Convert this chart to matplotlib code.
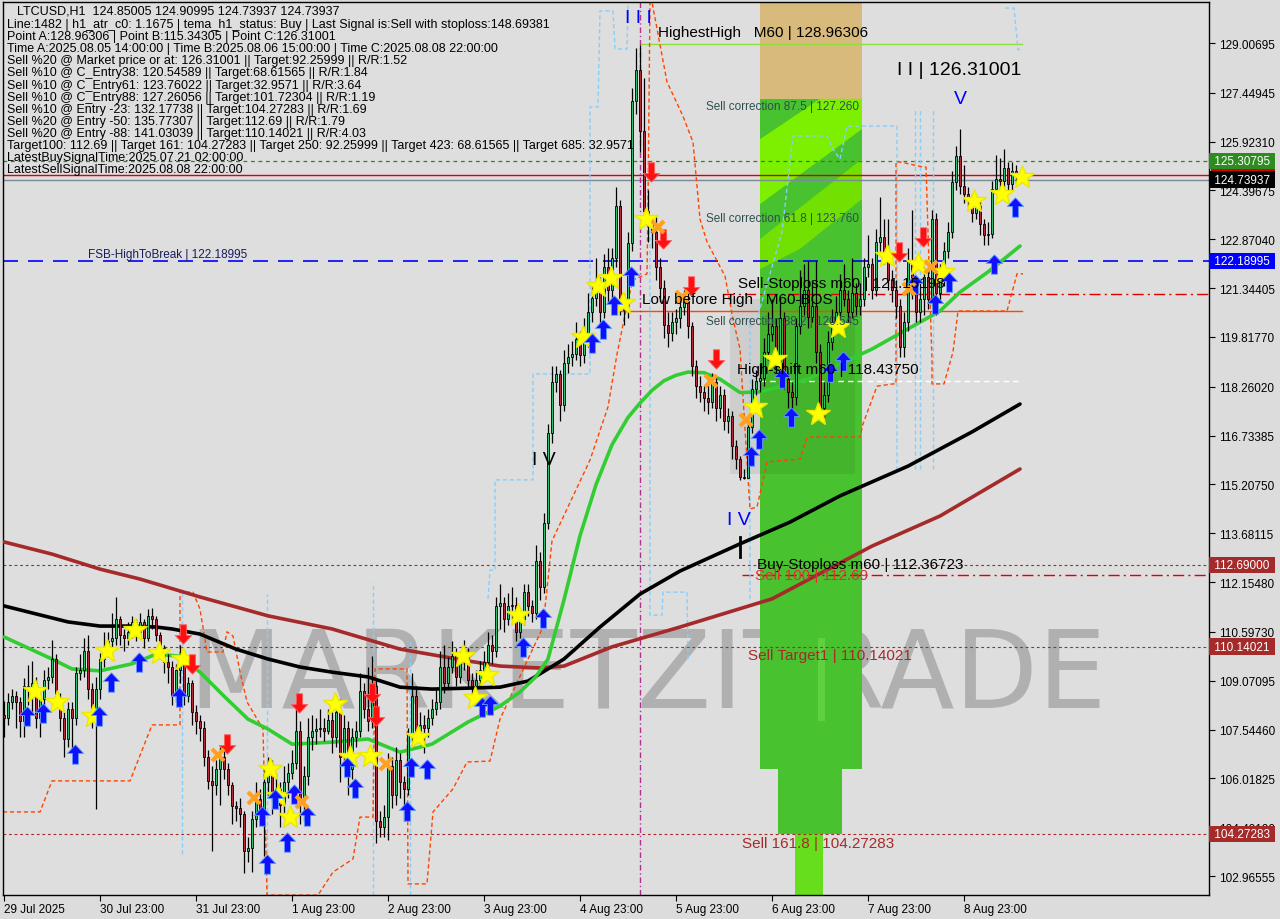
import matplotlib
matplotlib.use("Agg")
import matplotlib.pyplot as plt
from matplotlib.patches import Rectangle, Polygon
import matplotlib.transforms as mtransforms

plt.rcParams['font.family'] = ['Liberation Sans', 'DejaVu Sans']

# ---- candles (H1, index 0 = 29 Jul 23:00) ----
first_open = 108.00
closes = [
    107.90, 108.40, 108.60, 108.40, 107.80, 108.90, 108.85, 109.00, 107.90, 108.50, 109.10, 109.20,
    109.75, 108.50, 107.90, 107.25, 108.20, 107.90, 109.30, 109.40, 110.00, 108.80, 107.90, 108.80,
    109.75, 110.10, 110.30, 110.40, 111.00, 110.50, 110.40, 110.60, 110.90, 110.60, 110.90, 110.40,
    111.10, 111.00, 110.50, 110.10, 109.65, 109.50, 108.60, 109.40, 109.80, 108.60, 109.00, 108.10,
    107.80, 107.60, 106.70, 105.95, 105.80, 106.30, 106.70, 106.30, 105.80, 105.15, 105.10, 104.90,
    103.75, 103.85, 104.75, 105.37, 105.00, 105.90, 106.30, 105.60, 105.70, 105.20, 105.90, 106.20,
    106.50, 107.50, 105.40, 106.10, 107.30, 107.50, 107.55, 107.60, 107.50, 107.85, 107.30, 108.10,
    106.70, 107.60, 106.30, 107.30, 107.50, 108.75, 108.20, 107.80, 108.90, 104.70, 104.50, 104.80,
    106.40, 105.50, 106.60, 105.90, 105.70, 107.40, 108.60, 107.50, 107.70, 107.60, 107.90, 108.20,
    108.40, 109.50, 109.00, 109.50, 109.85, 109.20, 109.70, 109.90, 109.10, 108.90, 109.10, 109.40,
    109.65, 110.20, 110.00, 111.40, 111.50, 111.00, 111.40, 111.45, 110.60, 111.00, 111.85, 111.40,
    111.20, 112.80, 112.00, 114.00, 116.80, 118.40, 118.65, 117.70, 119.00, 119.20, 119.30, 119.75,
    119.25, 119.80, 120.60, 121.05, 121.40, 120.60, 122.00, 121.30, 122.30, 123.90, 120.90, 120.65,
    122.75, 127.20, 128.15, 126.25, 123.75, 123.40, 123.10, 122.00, 121.35, 120.20, 119.95, 120.30,
    120.40, 120.75, 120.95, 120.15, 118.90, 118.30, 118.10, 117.90, 117.80, 118.40, 117.60, 118.00,
    117.20, 117.35, 116.40, 116.00, 115.45, 115.40, 117.00, 118.20, 118.45, 118.55, 119.35, 119.90,
    120.15, 119.00, 120.40, 118.50, 118.10, 117.95, 120.15, 120.80, 121.30, 120.45, 120.80, 119.35,
    117.60, 118.00, 119.65, 120.30, 120.60, 121.30, 121.00, 120.60, 121.20, 120.80, 121.00, 122.00,
    122.10, 121.30, 122.80, 122.95, 122.45, 121.60, 121.30, 120.80, 119.50, 120.30, 122.15, 121.30,
    120.60, 121.00, 121.70, 121.00, 123.50, 121.20, 121.70, 122.50, 123.10, 124.66, 125.47, 124.55,
    124.30, 124.15, 123.70, 123.90, 123.35, 123.00, 123.05, 124.45, 124.75, 124.70, 125.10, 124.60,
    125.00, 124.85, 124.74,
]
highs = [
    108.45, 108.70, 108.80, 108.75, 108.55, 109.15, 109.55, 109.70, 109.20, 108.80, 109.40, 109.50,
    110.35, 109.90, 108.70, 108.10, 108.40, 108.40, 109.50, 109.90, 110.40, 110.50, 109.00, 109.20,
    109.95, 110.60, 110.60, 111.20, 111.70, 111.10, 110.70, 110.90, 111.10, 111.00, 111.20, 111.00,
    111.30, 111.35, 111.10, 110.60, 110.20, 109.90, 109.70, 109.60, 110.20, 110.00, 109.20, 109.10,
    108.30, 108.00, 107.80, 106.90, 106.40, 106.60, 107.00, 106.90, 106.50, 105.90, 105.30, 105.40,
    105.00, 104.20, 105.00, 105.90, 105.70, 106.40, 106.70, 106.60, 106.20, 105.90, 106.40, 106.50,
    106.90, 108.40, 107.80, 106.40, 107.90, 108.00, 107.90, 108.20, 107.90, 108.20, 108.10, 108.60,
    108.50, 108.00, 107.80, 107.60, 107.80, 109.30, 109.00, 109.50, 109.85, 109.10, 105.00, 105.20,
    106.80, 106.70, 107.00, 106.80, 106.10, 107.60, 109.30, 108.90, 108.10, 108.00, 108.20, 108.50,
    108.80, 110.00, 110.20, 109.80, 110.30, 110.10, 110.00, 110.35, 110.10, 109.30, 109.40, 109.70,
    110.00, 110.60, 110.50, 111.70, 112.10, 111.70, 111.80, 112.00, 111.70, 111.30, 112.10, 112.10,
    111.60, 113.30, 113.10, 114.30, 117.10, 118.90, 118.90, 118.80, 119.40, 119.60, 119.70, 120.30,
    120.00, 120.40, 121.20, 121.50, 122.30, 121.70, 122.40, 122.60, 122.60, 124.50, 124.10, 121.20,
    123.10, 127.60, 128.85, 128.96, 127.90, 124.40, 123.60, 123.60, 122.30, 121.60, 120.60, 120.60,
    120.70, 121.20, 121.30, 121.20, 120.30, 119.10, 118.60, 118.30, 118.60, 118.70, 118.60, 118.30,
    118.20, 117.60, 117.50, 116.60, 116.10, 115.70, 117.30, 118.50, 118.80, 119.00, 119.80, 120.60,
    121.00, 120.40, 121.10, 120.60, 118.70, 118.40, 120.40, 121.90, 122.10, 122.20, 121.60, 122.20,
    119.60, 118.40, 120.00, 120.70, 121.10, 121.80, 122.10, 121.30, 122.30, 121.50, 121.50, 122.30,
    123.00, 122.30, 123.20, 124.20, 123.50, 123.50, 121.90, 121.60, 121.00, 120.60, 122.60, 123.80,
    121.60, 121.50, 122.00, 122.00, 123.80, 123.70, 122.10, 122.80, 123.40, 125.00, 125.80, 126.31,
    125.20, 124.50, 124.30, 124.20, 124.10, 123.50, 123.40, 124.70, 125.50, 125.40, 125.70, 125.30,
    125.30, 125.20, 124.91,
]
lows = [
    107.30, 107.70, 108.20, 107.60, 107.30, 107.30, 108.30, 108.00, 107.60, 107.30, 108.00, 108.80,
    109.00, 108.30, 107.50, 106.70, 107.00, 106.90, 107.70, 109.10, 109.20, 108.50, 107.60, 105.05,
    108.50, 109.50, 109.90, 110.00, 110.20, 110.20, 110.00, 110.20, 110.40, 110.30, 110.40, 110.10,
    110.30, 110.70, 110.30, 109.80, 109.30, 109.00, 108.30, 108.40, 109.00, 108.30, 108.40, 107.70,
    107.40, 107.20, 106.40, 105.70, 103.75, 105.50, 105.20, 106.00, 105.50, 104.60, 104.70, 104.50,
    103.05, 103.40, 103.10, 104.50, 104.60, 103.60, 105.50, 104.90, 105.30, 104.50, 104.80, 105.40,
    106.00, 106.30, 104.60, 104.70, 105.80, 106.90, 107.10, 107.30, 107.20, 107.40, 106.80, 107.00,
    105.90, 106.40, 105.50, 106.00, 107.00, 107.30, 107.90, 107.50, 107.60, 104.00, 104.20, 104.20,
    104.10, 105.10, 105.20, 105.40, 104.70, 105.50, 107.20, 107.20, 107.20, 106.80, 107.30, 107.70,
    108.00, 108.20, 108.70, 108.80, 109.30, 108.90, 109.00, 109.40, 108.80, 108.30, 108.70, 108.90,
    109.20, 109.40, 109.60, 109.80, 110.70, 110.60, 110.80, 111.00, 110.30, 110.40, 110.80, 111.10,
    110.90, 111.00, 111.60, 111.80, 113.80, 116.50, 118.10, 117.20, 117.50, 118.70, 118.90, 119.10,
    118.90, 119.00, 119.50, 120.30, 120.80, 120.10, 120.40, 120.90, 121.00, 122.00, 120.50, 120.20,
    120.40, 122.50, 126.80, 125.60, 123.40, 122.80, 122.60, 121.60, 120.90, 119.80, 119.50, 119.70,
    119.90, 120.10, 120.50, 119.80, 118.60, 117.90, 117.80, 117.50, 117.40, 117.60, 117.20, 117.30,
    116.90, 116.80, 116.00, 115.70, 115.343, 115.38, 115.45, 116.80, 118.00, 118.10, 118.30, 119.10,
    119.70, 118.70, 118.80, 118.20, 117.60, 117.50, 117.70, 119.90, 120.50, 120.10, 120.30, 119.00,
    117.25, 117.30, 117.80, 119.40, 120.00, 120.40, 120.80, 120.20, 120.40, 120.50, 120.50, 120.80,
    121.70, 121.00, 121.10, 122.50, 122.10, 121.30, 120.90, 120.40, 119.20, 119.20, 120.00, 121.00,
    120.30, 120.30, 120.50, 120.70, 120.80, 120.50, 120.90, 121.40, 122.30, 122.90, 124.40, 124.30,
    124.00, 123.90, 123.40, 123.50, 123.00, 122.70, 122.70, 122.90, 124.30, 124.40, 124.50, 124.30,
    124.40, 124.60, 124.739,
]
opens = [first_open] + closes[:-1]
idx = list(range(len(closes)))

# ---- moving averages (read at knots: bar index, price) ----
ma_green_x = [0, 12, 17, 24, 32, 38, 44, 49, 55, 61, 66, 72, 82, 91, 99, 107, 116, 124, 129, 133,
              136, 140, 144, 148, 152, 156, 159, 162, 165, 168, 171, 175, 179, 184, 189, 201, 209,
              217, 226, 234, 239, 246, 254]
ma_green_y = [110.44, 109.75, 109.44, 109.38, 109.60, 109.90, 109.84, 109.34, 108.59, 107.87, 107.56,
              107.09, 107.15, 107.25, 106.84, 107.09, 107.78, 108.28, 108.72, 109.20, 109.75, 111.60,
              113.60, 115.20, 116.45, 117.30, 117.75, 118.15, 118.45, 118.62, 118.72, 118.70, 118.50,
              118.08, 118.10, 118.50, 118.97, 119.44, 120.07, 120.63, 121.22, 121.85, 122.66]
ma_black_x = [0, 16, 24, 32, 38, 42, 49, 58, 66, 74, 82, 91, 99, 107, 116, 124, 131, 136, 140, 149,
              159, 169, 184, 196.5, 209, 226, 242, 254]
ma_black_y = [111.41, 110.91, 110.78, 110.78, 110.75, 110.69, 110.53, 110.06, 109.75, 109.50, 109.34,
              109.19, 108.87, 108.81, 108.84, 108.87, 109.06, 109.44, 109.75, 110.75, 111.78, 112.50,
              113.35, 114.03, 114.85, 115.78, 116.85, 117.72]
ma_brown_x = [0, 12, 24, 34, 49, 66, 82, 99, 116, 124, 134, 140, 152, 169, 192, 217, 234, 254]
ma_brown_y = [113.41, 113.03, 112.56, 112.25, 111.69, 111.10, 110.69, 110.06, 109.69, 109.53, 109.47,
              109.53, 110.13, 110.75, 111.63, 113.28, 114.22, 115.69]

# ---- orange stop line (bar index, price) ----
stop_x = [-0.25, 9, 12, 31.5, 37, 44, 44, 47.25, 49, 50.75, 54.75, 55.75, 57.25, 59, 60.75, 64.75,
          65.75, 78.5, 82.25, 87.25, 89, 92.25, 92.75, 100.75, 101, 105.75, 107.25, 112.25, 115.75,
          121.5, 124, 134.75, 137, 140.75, 146.5, 151, 153.25, 155.75, 157.25, 160.75, 161, 161.5,
          162, 165.75, 169.75, 172.25, 174, 175.75, 180.25, 182.25, 184, 186.5, 188.25, 190.75, 199,
          200.75, 214, 214.75, 218.25, 222.25, 223, 223, 224, 229.75, 230.5, 232, 232, 235, 237.25,
          238.5, 250.75, 253.25, 254.75]
stop_y = [104.97, 104.97, 105.94, 105.94, 107.69, 107.69, 111.84, 111.84, 111.31, 109.97, 109.97,
          110.60, 110.47, 109.35, 108.41, 107.56, 102.37, 102.37, 103.09, 103.50, 104.81, 104.81,
          109.44, 109.44, 102.72, 102.72, 104.97, 105.69, 106.53, 106.56, 107.87, 110.75, 113.44,
          114.44, 115.97, 117.63, 119.28, 120.82, 121.60, 121.79, 124.00, 130.29, 130.29, 127.79,
          126.72, 125.91, 123.50, 122.79, 121.72, 120.38, 119.44, 114.44, 114.50, 115.91, 116.00,
          116.69, 116.69, 117.10, 118.28, 118.35, 118.35, 125.29, 125.29, 125.13, 125.13, 119.04,
          118.35, 118.35, 119.35, 120.63, 120.63, 121.79, 121.79]

# ---- light blue channel lines (bar index, price) ----
blue_a_x = [121, 121.5, 122.75, 122.75, 132.25, 132.25, 146.5, 146.5, 148.5, 149, 152.25, 152.75, 155.75, 156]
blue_a_y = [111.63, 112.53, 112.53, 115.35, 115.35, 118.66, 118.66, 127.01, 127.01, 130.01, 130.01,
            128.82, 128.82, 130.29]
blue_b_x = [186.5, 186.5, 188.25, 194.5, 197.25, 205.75, 207.25, 209, 210.75, 223.25, 223.25]
blue_b_y = [111.63, 120.38, 120.38, 123.10, 126.10, 126.10, 125.69, 125.38, 126.41, 126.41, 115.69]
blue_c_x = [161.5, 161.5, 164.5, 164.75, 170.75, 171]
blue_c_y = [123.38, 111.12, 111.12, 111.84, 111.84, 109.75]
blue_d_x = [250.25, 252.5, 253.5, 254.5]
blue_d_y = [130.10, 130.10, 128.80, 128.80]
blue_v_x = [44.5, 65.75, 92.25, 101.5, 227.75, 229, 232.25]
blue_v_top = [111.94, 111.78, 112.15, 110.38, 126.94, 126.94, 126.94]
blue_v_bot = [103.65, 102.37, 102.37, 102.37, 115.69, 115.69, 115.69]

# ---- signal markers (bar index, price) ----
star_x = [7.75, 13.25, 22.25, 25.75, 32.75, 38.75, 44.75, 66.5, 68.5, 71.5, 82.75, 86.5, 91.5, 103.5,
          114.75, 117.75, 120.75, 128.5, 144.75, 148.5, 151.75, 154.75, 160.5, 187.75, 192.75, 203.5,
          208.5, 220.75, 228.5, 234.75, 242.5, 249.5, 254.5]
star_y = [108.75, 108.41, 107.97, 110.00, 110.66, 109.94, 109.75, 106.31, 105.47, 104.81, 108.34,
          106.69, 106.72, 107.31, 109.84, 108.53, 109.25, 111.13, 119.82, 121.41, 121.66, 120.88,
          123.50, 117.63, 119.13, 117.41, 120.13, 122.35, 122.10, 121.85, 124.07, 124.29, 124.82]
up_x = [5.75, 9.75, 17.75, 23.75, 26.75, 33.75, 43.75, 64.5, 65.75, 67.75, 70.75, 72.5, 75.75, 85.75,
        87.75, 100.75, 101.75, 105.75, 119.5, 121.5, 129.75, 134.75, 147, 149.75, 152.5, 156.75,
        186.75, 188.75, 194.5, 196.75, 206.5, 209.75, 227.75, 232.75, 236.25, 247.5, 252.75]
up_y = [107.97, 108.06, 106.78, 107.97, 109.03, 109.66, 108.56, 104.84, 103.34, 105.37, 104.03, 105.53,
        104.84, 106.37, 105.72, 105.00, 106.37, 106.31, 108.25, 108.31, 110.13, 111.03, 119.63, 120.07,
        120.82, 121.72, 116.10, 116.63, 118.53, 117.32, 118.72, 119.07, 121.47, 120.85, 121.53, 122.10,
        123.88]
down_x = [44.75, 47, 55.75, 73.75, 92, 93, 161.75, 164.75, 171.75, 178, 223.75, 229.75]
down_y = [110.53, 109.60, 107.09, 108.38, 108.69, 107.97, 124.97, 122.88, 121.41, 119.13, 122.47, 122.94]
cross_x = [53.5, 62.5, 74.5, 95.5, 163.5, 169.5, 176.75, 185.5, 226.25, 231.75]
cross_y = [106.75, 105.41, 105.28, 106.47, 123.25, 121.07, 118.44, 117.22, 121.32, 122.00]

# ---- levels ----
price_ticks = [129.00695, 127.44945, 125.92310, 124.39675, 122.87040, 121.34405, 119.81770, 118.26020,
               116.73385, 115.20750, 113.68115, 112.15480, 110.59730, 109.07095, 107.54460, 106.01825,
               104.49190, 102.96555]
date_ticks = [0, 24, 48, 72, 96, 120, 144, 168, 192, 216, 240]
date_labels = ["29 Jul 2025", "30 Jul 23:00", "31 Jul 23:00", "1 Aug 23:00", "2 Aug 23:00",
               "3 Aug 23:00", "4 Aug 23:00", "5 Aug 23:00", "6 Aug 23:00", "7 Aug 23:00", "8 Aug 23:00"]

info_lines = [
    "Line:1482 | h1_atr_c0: 1.1675 | tema_h1_status: Buy | Last Signal is:Sell with stoploss:148.69381",
    "Point A:128.96306 | Point B:115.34305 | Point C:126.31001",
    "Time A:2025.08.05 14:00:00 | Time B:2025.08.06 15:00:00 | Time C:2025.08.08 22:00:00",
    "Sell %20 @ Market price or at: 126.31001 || Target:92.25999 || R/R:1.52",
    "Sell %10 @ C_Entry38: 120.54589 || Target:68.61565 || R/R:1.84",
    "Sell %10 @ C_Entry61: 123.76022 || Target:32.9571 || R/R:3.64",
    "Sell %10 @ C_Entry88: 127.26056 || Target:101.72304 || R/R:1.19",
    "Sell %10 @ Entry -23: 132.17738 || Target:104.27283 || R/R:1.69",
    "Sell %20 @ Entry -50: 135.77307 || Target:112.69 || R/R:1.79",
    "Sell %20 @ Entry -88: 141.03039 || Target:110.14021 || R/R:4.03",
    "Target100: 112.69 || Target 161: 104.27283 || Target 250: 92.25999 || Target 423: 68.61565 || Target 685: 32.9571",
    "LatestBuySignalTime:2025.07.21 02:00:00",
    "LatestSellSignalTime:2025.08.08 22:00:00",
]

# ---------------------------------------------------------------
fig = plt.figure(figsize=(12.8, 9.2), dpi=100, facecolor="#dcdcdc")
ax = fig.add_axes([3 / 1280, 24 / 920, 1206 / 1280, 893 / 920])
ax.set_facecolor("#dedede")
ax.set_xlim(-0.25, 301.25)
ax.set_ylim(102.373, 130.289)

# watermark
ax.text(161, 109.2, "MARKETZITRADE", fontsize=78, color="#b0b0b0", ha="center", va="center",
        zorder=0, family="DejaVu Sans")

# zone boxes
ax.add_patch(Rectangle((189, 127.26), 25.5, 3.1, color="#d8ba7c", zorder=1, lw=0))
ax.add_patch(Rectangle((189, 106.31), 25.5, 20.95, color="#49c230", zorder=1, lw=0))
ax.add_patch(Rectangle((193.5, 104.27), 16, 2.04, color="#49c230", zorder=1, lw=0))
ax.add_patch(Rectangle((197.75, 102.37), 7, 1.9, color="#66de1c", zorder=1, lw=0))
ax.add_patch(Polygon([(189, 126.0), (204, 127.26), (214.5, 127.26), (214.5, 126.32), (189, 123.97)],
                     closed=True, color="#7cf000", zorder=1, lw=0))
ax.add_patch(Polygon([(189, 122.88), (214.5, 125.38), (214.5, 124.13), (199, 122.57), (189, 121.94)],
                     closed=True, color="#72e000", zorder=1, lw=0))
ax.add_patch(Rectangle((203.5, 107.8), 1.8, 2.6, color="#5fd040", zorder=1, lw=0))
ax.add_patch(Rectangle((181.5, 115.53), 31.25, 5.47, color="black", alpha=0.07, zorder=1, lw=0))

# horizontal levels
ax.axhline(125.30795, color="#1e8c1e", ls=(0, (3, 3)), lw=0.9, zorder=2)
ax.axhline(124.885, color="#e00000", lw=1.0, zorder=2)
ax.axhline(124.73937, color="#7a8a99", lw=1.0, zorder=2)
ax.axhline(122.18995, color="#0000ff", ls=(0, (9, 6)), lw=1.2, zorder=2)
for lvl in [112.69, 110.14021, 104.27283]:
    ax.axhline(lvl, color="#a52a2a", ls=(0, (2.5, 2.5)), lw=0.8, zorder=2)
ax.plot([179.75, 301.25], [121.16, 121.16], color="#e00000", ls=(0, (8, 3, 1.5, 3)), lw=1.0, zorder=2)
ax.plot([184.5, 301.25], [112.367, 112.367], color="#e00000", ls=(0, (8, 3, 1.5, 3)), lw=1.0, zorder=2)
ax.plot([154, 254.5], [120.63, 120.63], color="#ff4500", lw=1.0, zorder=2)
ax.plot([189, 254], [118.4375, 118.4375], color="white", ls=(0, (4, 3)), lw=1.0, zorder=2)
ax.plot([159, 254.5], [128.963, 128.963], color="#8fe03a", lw=1.0, zorder=2)
ax.axvline(159, color="#b0308f", ls=(0, (4, 2, 1, 2)), lw=1.0, zorder=2)

# light blue lines
lb = dict(color="#87cefa", ls=(0, (3, 2)), lw=1.0, zorder=2)
ax.plot(blue_a_x, blue_a_y, **lb)
ax.plot(blue_b_x, blue_b_y, **lb)
ax.plot(blue_c_x, blue_c_y, **lb)
ax.plot(blue_d_x, blue_d_y, **lb)
ax.vlines(blue_v_x, blue_v_bot, blue_v_top, colors="#87cefa", linestyles=(0, (3, 2)), lw=1.0, zorder=2)

# orange stop line
ax.plot(stop_x, stop_y, color="#ff4500", ls=(0, (3, 2)), lw=1.0, zorder=2)

# moving averages
ax.plot(ma_brown_x, ma_brown_y, color="#a52a2a", lw=2.6, zorder=3, solid_capstyle="round")
ax.plot(ma_black_x, ma_black_y, color="black", lw=2.6, zorder=3, solid_capstyle="round")
ax.plot(ma_green_x, ma_green_y, color="#32cd32", lw=2.6, zorder=3, solid_capstyle="round")

# candles
ax.vlines(idx, lows, highs, color="black", lw=0.9, zorder=4)
body_b = [min(o, c) for o, c in zip(opens, closes)]
body_h = [max(abs(c - o), 0.03) for o, c in zip(opens, closes)]
body_c = ["#2fbf71" if c >= o else "#b22a3a" for o, c in zip(opens, closes)]
ax.bar(idx, body_h, bottom=body_b, width=0.7, color=body_c, edgecolor="black", linewidth=0.6, zorder=5)

# markers
up_arrow = [(0, 1), (0.85, 0.1), (0.32, 0.1), (0.32, -1), (-0.32, -1), (-0.32, 0.1), (-0.85, 0.1), (0, 1)]
down_arrow = [(x, -y) for x, y in up_arrow]
ax.plot(star_x, star_y, ls="none", marker="*", ms=18, color="#ffff00", mec="#e8e800", zorder=6)
ax.plot(up_x, up_y, ls="none", marker=up_arrow, ms=14, color="#1010ff", mec="#5f9fff", mew=0.6, zorder=6)
ax.plot(down_x, down_y, ls="none", marker=down_arrow, ms=14, color="#ff1010", mec="#ff6060", mew=0.6, zorder=6)
ax.plot(cross_x, cross_y, ls="none", marker="x", ms=9, mew=3, color="#ffa01e", zorder=6)
ax.plot([184, 184], [113.55, 112.95], color="black", lw=2, zorder=6)

# chart texts
big = dict(fontsize=11, va="center", ha="left", zorder=7)
ax.text(163.5, 129.35, "HighestHigh   M60 | 128.96306", color="black", **big)
ax.text(159.5, 121.0, "Low before High   M60-BOS", color="black", **big)
ax.text(183.5, 121.5, "Sell-Stoploss m60 | 121.15198", color="black", **big)
ax.text(183.25, 118.82, "High-shift m60 | 118.43750", color="black", **big)
ax.text(188.25, 112.72, "Buy-Stoploss m60 | 112.36723", color="black", **big)
ax.text(187.75, 112.38, "Sell 100 | 112.69", color="#e03030", **big)
ax.text(186, 109.87, "Sell Target1 | 110.14021", color="#a52a2a", **big)
ax.text(184.5, 104.0, "Sell 161.8 | 104.27283", color="#a52a2a", **big)
small = dict(fontsize=8.5, va="center", ha="left", zorder=7, color="#2f4f4f")
ax.text(175.5, 127.04, "Sell correction 87.5 | 127.260", **small)
ax.text(175.5, 123.54, "Sell correction 61.8 | 123.760", **small)
ax.text(175.5, 120.32, "Sell correction 38.2 | 120.545", **small)
ax.text(21, 122.41, "FSB-HighToBreak | 122.18995", fontsize=8.5, va="center", ha="left", color="#1a1a5c", zorder=7)
wave = dict(fontsize=14, va="center", ha="left", zorder=7)
ax.text(155.25, 129.82, "I I I", color="#0000ff", **wave)
ax.text(223.25, 128.19, "I I | 126.31001", color="black", **wave)
ax.text(237.5, 127.26, "V", color="#0000ff", **wave)
ax.text(180.75, 114.1, "I V", color="#0000ff", **wave)
ax.text(132, 116.0, "I V", color="black", **wave)

# info block
fig.text(17 / 1280, 1 - 12 / 920, "LTCUSD,H1  124.85005 124.90995 124.73937 124.73937",
         fontsize=9, va="center", ha="left", color="black")
for k, line in enumerate(info_lines):
    fig.text(7 / 1280, 1 - (25 + 12.1 * k) / 920, line, fontsize=9, va="center", ha="left", color="black")

# axes / ticks
for s in ["left", "top", "bottom", "right"]:
    ax.spines[s].set_color("black")
    ax.spines[s].set_linewidth(1.0)
ax.yaxis.tick_right()
ax.set_yticks(price_ticks)
ax.set_yticklabels([f"{p:.5f}" for p in price_ticks])
ax.tick_params(axis="y", direction="out", length=4, width=0.8, labelsize=8.5, pad=3, colors="black")
ax.set_xticks(date_ticks)
ax.set_xticklabels(date_labels)
ax.tick_params(axis="x", direction="out", length=4, width=0.8, labelsize=8.5, pad=2)
for lab in ax.get_xticklabels():
    lab.set_ha("left")

# price boxes on the axis
trans = mtransforms.blended_transform_factory(ax.transAxes, ax.transData)
ax.add_patch(Rectangle((1.0015, 124.80), 0.0535, 0.34, transform=trans, color="#e00000",
                       clip_on=False, zorder=9, lw=0))
boxes = [(125.30795, "125.30795", "#2e8b22"), (124.73937, "124.73937", "black"),
         (122.18995, "122.18995", "#0000ff"), (112.69, "112.69000", "#a52a2a"),
         (110.14021, "110.14021", "#a52a2a"), (104.27283, "104.27283", "#a52a2a")]
for price, txt, col in boxes:
    ax.text(1.0015, price, " " + txt + " ", transform=trans, fontsize=8.5, color="white", va="center",
            ha="left", zorder=10, clip_on=False,
            bbox=dict(boxstyle="square,pad=0.18", facecolor=col, edgecolor="none"))

fig.savefig("out.png", dpi=100, facecolor=fig.get_facecolor())
